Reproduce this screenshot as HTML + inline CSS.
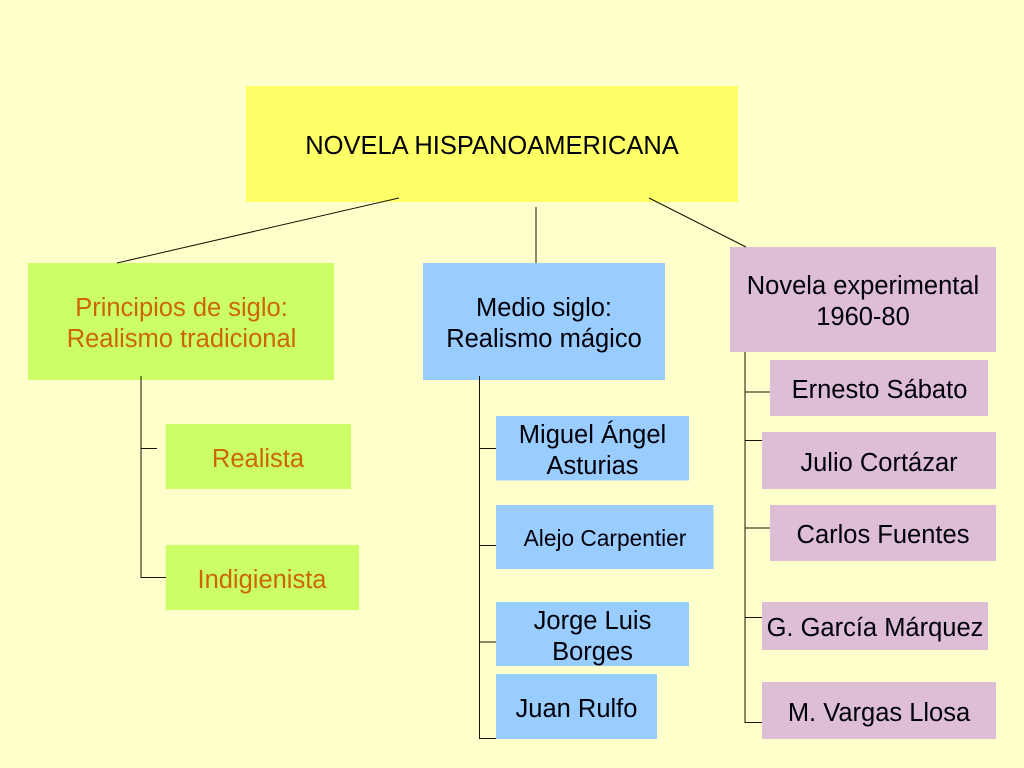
<!DOCTYPE html>
<html lang="es">
<head>
<meta charset="utf-8">
<title>Novela hispanoamericana</title>
<style>
html,body{margin:0;padding:0;width:1024px;height:768px;overflow:hidden;background:#ffffcc}
svg{display:block}
text{font-family:"Liberation Sans",sans-serif;font-size:25.5px;text-anchor:middle;fill:#000008}
.o{fill:#cc6600}
</style>
</head>
<body>
<svg width="1024" height="768" viewBox="0 0 1024 768" xmlns="http://www.w3.org/2000/svg">
<rect width="1024" height="768" fill="#ffffcc"/>
<!-- boxes -->
<rect x="246" y="86" width="492" height="116" fill="#ffff66"/>
<rect x="28" y="263" width="306" height="117" fill="#ccff66"/>
<rect x="423" y="263" width="242" height="117" fill="#99ccff"/>
<rect x="730" y="247" width="266" height="105" fill="#ddbed6"/>
<rect x="165.7" y="424" width="185.3" height="65" fill="#ccff66"/>
<rect x="165.7" y="545" width="193.3" height="65" fill="#ccff66"/>
<rect x="496" y="416" width="193" height="64.5" fill="#99ccff"/>
<rect x="496" y="505" width="217.5" height="64" fill="#99ccff"/>
<rect x="496" y="602" width="193" height="64" fill="#99ccff"/>
<rect x="496" y="674" width="161" height="65" fill="#99ccff"/>
<rect x="770" y="360" width="218" height="56" fill="#ddbed6"/>
<rect x="762" y="432" width="234" height="57" fill="#ddbed6"/>
<rect x="770" y="505" width="226" height="56" fill="#ddbed6"/>
<rect x="762" y="602" width="226" height="48" fill="#ddbed6"/>
<rect x="762" y="682" width="234" height="57" fill="#ddbed6"/>
<!-- connectors -->
<g stroke="#141400" stroke-width="1" fill="none">
<path d="M399 198L117 263"/>
<path d="M536 207V263"/>
<path d="M649 198L746 247"/>
<path d="M141 376V577.5H166"/>
<path d="M141 448.5H157"/>
<path d="M479.5 376V738.5H496"/>
<path d="M479.5 448.5H496M479.5 545.5H496M479.5 642H496"/>
<path d="M745 352V722.5H762"/>
<path d="M745 392H770M745 440.5H762M745 528H770M745 617.5H762"/>
</g>
<!-- labels -->
<text x="492" y="154">NOVELA HISPANOAMERICANA</text>
<text class="o" x="181.5" y="316">Principios de siglo:</text>
<text class="o" x="181.5" y="347">Realismo tradicional</text>
<text x="544" y="316">Medio siglo:</text>
<text x="544" y="347">Realismo mágico</text>
<text x="863" y="294">Novela experimental</text>
<text x="863" y="325">1960-80</text>
<text class="o" x="258" y="467">Realista</text>
<text class="o" x="262" y="588">Indigienista</text>
<text x="592.5" y="443">Miguel Ángel</text>
<text x="592.5" y="474">Asturias</text>
<text x="605" y="546" style="font-size:22.7px">Alejo Carpentier</text>
<text x="592.5" y="629">Jorge Luis</text>
<text x="592.5" y="660">Borges</text>
<text x="576.5" y="717">Juan Rulfo</text>
<text x="879.5" y="398">Ernesto Sábato</text>
<text x="879" y="471">Julio Cortázar</text>
<text x="883" y="543">Carlos Fuentes</text>
<text x="875" y="636">G. García Márquez</text>
<text x="879" y="721">M. Vargas Llosa</text>
</svg>
</body>
</html>
